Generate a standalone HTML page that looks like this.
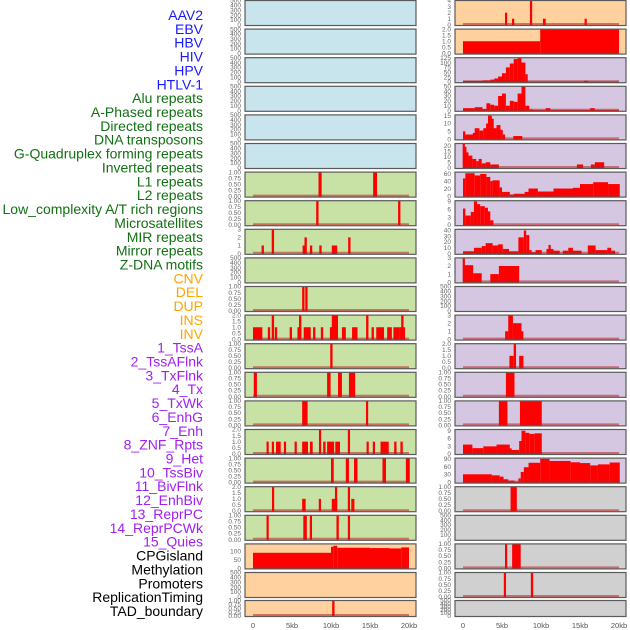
<!DOCTYPE html>
<html><head><meta charset="utf-8"><style>
body{margin:0;background:#fff;width:630px;height:630px;overflow:hidden}
svg{display:block;font-family:"Liberation Sans",sans-serif}
</style></head><body>
<svg id="chart" width="630" height="630" viewBox="0 0 630 630"></svg>
<script>
const trackLabels=["AAV2","EBV","HBV","HIV","HPV","HTLV-1","Alu repeats","A-Phased repeats","Directed repeats","DNA transposons","G-Quadruplex forming repeats","Inverted repeats","L1 repeats","L2 repeats","Low_complexity A/T rich regions","Microsatellites","MIR repeats","Mirror repeats","Z-DNA motifs","CNV","DEL","DUP","INS","INV","1_TssA","2_TssAFlnk","3_TxFlnk","4_Tx","5_TxWk","6_EnhG","7_Enh","8_ZNF_Rpts","9_Het","10_TssBiv","11_BivFlnk","12_EnhBiv","13_ReprPC","14_ReprPCWk","15_Quies","CPGisland","Methylation","Promoters","ReplicationTiming","TAD_boundary"];
const labelColors=["#1a1aff","#1a1aff","#1a1aff","#1a1aff","#1a1aff","#1a1aff","#127012","#127012","#127012","#127012","#127012","#127012","#127012","#127012","#127012","#127012","#127012","#127012","#127012","#ffa500","#ffa500","#ffa500","#ffa500","#ffa500","#a020f0","#a020f0","#a020f0","#a020f0","#a020f0","#a020f0","#a020f0","#a020f0","#a020f0","#a020f0","#a020f0","#a020f0","#a020f0","#a020f0","#a020f0","#000","#000","#000","#000","#000"];
const xTickValues=[0,5,10,15,20];
const xTickLabels=["0","5kb","10kb","15kb","20kb"];
const T500=["500","400","300","200","100","0"],T1=["1.00","0.75","0.50","0.25","0.00"],T2=["2.0","1.5","1.0","0.5","0.0"],T3=["3","2","1","0"];
const L6=[[8.4,8.8,1],[15.4,15.9,1]];
const L7=[[8.1,8.4,1],[18.6,18.9,1]];
const L8=[[1.1,1.4,1],[2.4,2.7,3],[6.4,6.6,1],[6.6,6.9,2],[7.3,7.6,1],[8.5,8.8,1],[10.1,10.8,1],[12.2,12.5,2]];
const L10=[[6.3,6.6,1],[6.7,7.0,1]];
const L11=[[0,1.2,1],[1.9,2.2,1],[2.4,2.7,2],[2.8,3.1,1],[4.7,5.0,1],[5.7,6.2,1],[5.9,6.2,2],[6.5,7.4,1],[7.7,8.0,1],[8.7,9.0,1],[9.9,10.1,1],[10.1,10.9,2],[11.4,11.9,1],[12.7,13.4,1],[14.5,14.8,2],[15.2,15.5,1],[15.8,16.8,1],[17.2,17.8,1],[18.0,18.8,1],[18.8,19.5,1],[19.0,19.3,2]];
const L12=[[9.9,10.2,1]];
const L13=[[0.1,0.5,1],[9.5,9.95,1],[10.9,11.4,1],[12.3,13.1,1]];
const L14=[[6.3,7.0,1],[14.5,14.75,1]];
const L15=[[1.75,2.0,1],[2.45,2.65,1],[2.95,3.55,1],[4.0,4.2,1],[5.35,5.6,1],[6.3,7.05,1],[7.3,7.65,1],[8.5,8.7,2],[9.0,9.3,1],[9.5,10.4,1],[10.55,11.15,1],[12.2,12.4,2],[14.6,14.8,1],[15.4,15.6,1],[16.35,17.4,1],[18.1,18.4,1],[18.9,19.2,1]];
const L16=[[10.0,10.35,1],[11.9,12.3,1],[12.95,13.4,1],[16.6,17.05,1],[19.6,20.1,1]];
const L17=[[2.45,2.7,2],[10.55,10.75,2],[12.2,12.4,2],[6.3,6.75,1],[8.45,8.7,1],[10.1,10.8,1],[12.6,13.0,1]];
const L18=[[1.75,2.0,1],[6.45,6.9,1],[7.3,7.55,1],[10.7,11.0,1],[12.2,12.4,1]];
const L19=[[0,10,92],[10,10.3,128],[10.3,10.8,134],[10.8,15,122],[15,17.5,120],[17.5,19,118],[19,20,124]];
const L21=[[10.15,10.45,1]];
const R0=[[5.4,5.65,2],[6.3,6.55,1],[8.6,8.85,4],[10.25,10.6,1],[15.6,15.85,1]];
const R1=[[0,9.9,1],[9.9,20,2]];
const R2=[[0,2.5,5],[2.5,3.5,8],[3.5,4,12],[4,4.5,18],[4.5,5,28],[5,5.5,45],[5.5,6,75],[6,6.5,95],[6.5,7,118],[7,7.5,125],[7.5,8,100],[8,8.3,40],[8.3,10.5,2],[10.5,15.5,2],[15.5,16,6],[16,20,2]];
const R3=[[0,1.5,5],[1.5,2.5,7],[2.5,3,3],[3,3.5,15],[3.5,4,12],[4,4.5,10],[4.5,5,30],[5,5.5,35],[5.5,6,10],[6,6.5,20],[6.5,7,18],[7,7.5,35],[7.5,8,50],[8,8.5,10],[8.5,9,2],[9,10.6,1],[10.6,11.2,5],[11.2,16.3,1],[16.3,16.9,5],[16.9,20,1]];
const R4=[[0,0.3,5],[0.3,1.3,3],[1.3,1.5,4],[1.5,2.1,7],[2.1,2.6,5.5],[2.6,3,7],[3,3.2,10],[3.2,3.7,15],[3.7,3.9,13],[3.9,4.3,7],[4.3,4.8,9],[4.8,5.1,6],[5.1,5.4,3],[6.45,7.6,2]];
const R5=[[0,0.2,22],[0.2,0.4,19],[0.4,0.7,14],[0.7,1.2,11],[1.2,1.7,8],[1.7,2.0,6],[2.0,2.4,8],[2.4,2.9,4],[2.9,3.5,5],[3.5,4.6,3],[14.6,15.4,3],[16.4,16.9,3],[16.9,18.1,5]];
const R6=[[0,0.3,48],[0.3,1.5,62],[1.5,2.2,56],[2.2,3,60],[3,3.5,52],[3.5,3.8,41],[3.8,4.7,43],[4.7,5,24],[5,6,12],[6,6.5,5],[6.5,7.9,7],[7.9,8.4,12],[8.4,9.6,21],[9.6,11.6,13],[11.6,14.1,21],[14.1,15,23],[15,16.7,33],[16.7,18.6,38],[18.6,20.1,33]];
const R7=[[0,0.3,6.3],[0.3,1.0,3.6],[1.0,1.4,5],[1.4,1.8,9],[1.8,2.2,8],[2.2,2.8,7.2],[2.8,3.2,6.6],[3.2,3.5,5.2],[3.5,3.9,1.8]];
const R8=[[0,1.4,4],[1.4,2.4,10],[2.4,2.9,13],[2.9,3.8,18],[3.8,4.5,14],[4.5,5.1,16],[5.1,5.9,8],[5.9,7.1,4],[7.1,7.8,28],[7.8,8.1,40],[8.1,8.5,32],[8.5,8.8,6],[8.8,9.3,2],[9.3,10.1,6],[10.7,11.0,8],[11.0,11.2,15],[11.2,11.6,8],[11.6,12.4,5],[12.8,13.5,5],[13.5,14.1,10],[14.1,15.2,5],[16,17,14],[17,18.5,6],[18.5,19,10],[19,19.5,5]];
const R9=[[0,0.2,3],[0.2,1.3,2.1],[1.3,2.4,1.1],[3.5,4.6,1],[4.6,7.2,2]];
const R11=[[5.4,5.8,1],[5.8,6.4,3],[6.4,7.5,2],[7.5,7.7,1]];
const R12=[[5.95,6.5,1],[6.5,6.8,2],[7.2,7.75,1]];
const R13=[[5.5,6.6,1]];
const R14=[[4.6,5.7,1],[7.3,10.1,1]];
const R15=[[0,1.2,3.6],[1.2,2.6,2.2],[2.6,4.3,2.9],[4.3,6,3.6],[6,6.2,2.1],[6.2,7.2,1.5],[7.2,7.5,5],[7.5,8,9],[8,8.5,8.2],[8.5,9.2,7.8],[9.2,10.1,8]];
const R16=[[0,3.7,31],[3.7,4.7,27],[4.7,5.2,22],[5.2,5.8,12],[5.8,6.6,7],[6.6,7.1,2],[7.1,7.4,15],[7.4,7.8,40],[7.8,8.4,58],[8.4,9.9,75],[9.9,11.1,90],[11.1,13.8,82],[13.8,15,77],[15,16.3,74],[16.3,17.3,65],[17.3,18.8,69],[18.8,20.1,76]];
const R17=[[6.1,6.9,1]];
const R19=[[5.4,5.65,1],[6.3,7.4,1]];
const R20=[[5.25,5.5,1],[8.7,9.0,1]];

const BLUE="#c8e4ec",GREEN="#c8e1a5",ORANGE="#ffd19f",PURPLE="#d5c6e2",GRAY="#d0d0d0";
// [bg, tickLabels, top, data]
const leftPanels=[
[BLUE,T500,500,null],[BLUE,T500,500,null],[BLUE,T500,500,null],[BLUE,T500,500,null],[BLUE,T500,500,null],[BLUE,T500,500,null],
[GREEN,T1,1,L6],[GREEN,T1,1,L7],[GREEN,T3,3,L8],[GREEN,T500,500,null],[GREEN,T1,1,L10],[GREEN,T2,2,L11],
[GREEN,T1,1,L12],[GREEN,T1,1,L13],[GREEN,T1,1,L14],[GREEN,T2,2,L15],[GREEN,T1,1,L16],[GREEN,T2,2,L17],[GREEN,T1,1,L18],
[ORANGE,["100","50","0"],145,L19],[ORANGE,T500,500,null],[ORANGE,T1,1,L21]];
const rightPanels=[
[ORANGE,["4","3","2","1","0"],4,R0],[ORANGE,T2,2,R1],[PURPLE,["125","100","75","50","25","0"],125,R2],[PURPLE,["50","40","30","20","10","0"],50,R3],
[PURPLE,["15","10","5","0"],15.5,R4],[PURPLE,["20","15","10","5","0"],22,R5],[PURPLE,["60","40","20","0"],65,R6],[PURPLE,["9","6","3","0"],9.3,R7],
[PURPLE,["40","30","20","10","0"],42,R8],[PURPLE,T3,3,R9],[PURPLE,T500,500,null],[PURPLE,T3,3,R11],[PURPLE,T2,2,R12],[PURPLE,T1,1,R13],[PURPLE,T1,1,R14],
[PURPLE,["9","6","3","0"],9.5,R15],[PURPLE,["90","60","30","0"],93,R16],[GRAY,T1,1,R17],[GRAY,T500,500,null],[GRAY,T1,1,R19],[GRAY,T1,1,R20],[GRAY,T500,500,null]];

const NS="http://www.w3.org/2000/svg";
const svg=document.getElementById('chart');
function mk(tag,attrs,parent){const e=document.createElementNS(NS,tag);for(const k in attrs)e.setAttribute(k,attrs[k]);(parent||svg).appendChild(e);return e;}
function rowTop(i){return i<21?0.5+28.6*i:600.5;}
function rowH(i){return i<21?25:16;}
function xScale(x0,kb){return x0+8+kb*7.8;}

trackLabels.forEach((t,i)=>{
  const e=mk('text',{x:203,y:15+i*13.86+5,'text-anchor':'end','font-size':14,fill:labelColors[i]});
  e.textContent=t;
  
  
});

function drawPanel(p,i,x0,side){
  const [bg,ticks,top,data]=p;
  const y0=rowTop(i),h=rowH(i),w=171;
  const g=mk('g',{});
  
  
  mk('rect',{x:x0,y:y0,width:w,height:h,fill:bg},g);
  const ymin=-0.03*top;
  const yS=v=>y0+h-(v-ymin)/(top-ymin)*h;
  if(data){
    data.forEach(d=>{
      let a=xScale(x0,d[0]),b=xScale(x0,d[1]);
      if(b-a<2.2){const c=(a+b)/2;a=c-1.1;b=c+1.1;}
      const yt=Math.max(y0,yS(d[2]));
      const r=mk('rect',{x:a,y:yt,width:b-a,height:y0+h-yt,fill:'#ff0000'},g);
      
      
    });
    const bl=mk('line',{x1:xScale(x0,0),x2:xScale(x0,20),y1:y0+h-1.5,y2:y0+h-1.5,stroke:'rgba(190,30,30,0.55)','stroke-width':2},g);
    
    
  }
  mk('rect',{x:x0,y:y0,width:w,height:h,fill:'none',stroke:'#5a5a5a','stroke-width':1.2},g);
  const n=ticks.length;
  ticks.forEach((t,k)=>{
    const v=parseFloat(t);
    const ty=yS(v);
    const e=mk('text',{x:x0-4,y:ty+2.2,'text-anchor':'end','font-size':6.5,fill:'#666'},g);
    e.textContent=t;
    
    
  });
}
leftPanels.forEach((p,i)=>drawPanel(p,i,245,'left'));
rightPanels.forEach((p,i)=>drawPanel(p,i,455,'right'));

[245,455].forEach((x0,s)=>{
  xTickValues.forEach((v,k)=>{
    const e=mk('text',{x:xScale(x0,v),y:628,'text-anchor':'middle','font-size':7.5,fill:'#555'});
    e.textContent=xTickLabels[k];
    
    
  });
});
</script>
</body></html>
